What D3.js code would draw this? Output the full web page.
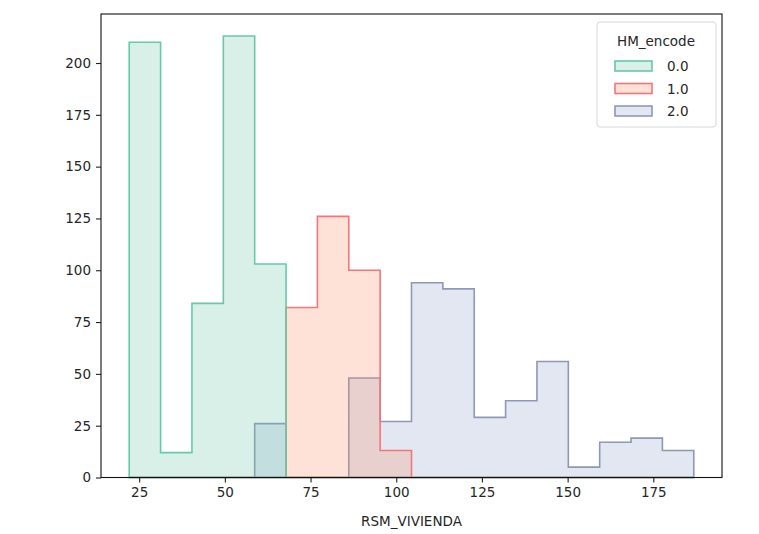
<!DOCTYPE html>
<html>
<head>
<meta charset="utf-8">
<script src="https://cdn.jsdelivr.net/npm/d3@7"></script>
<style>
    body { margin: 0; background: #fff; }
    text { font-family: "DejaVu Sans", sans-serif; fill: #262626; }
</style>
</head>
<body>
<div id="chart"></div>
<script>
// histogram bins shared by all hue levels
const binStart = 22.1,
    binEnd = 186.8,
    binCount = 18;

const hueLevels = ["0.0", "1.0", "2.0"];

// counts per bin, one array per HM_encode level
const counts0 = [210, 12, 84, 213, 103, 0, 0, 0, 0, 0, 0, 0, 0, 0, 0, 0, 0, 0];
const counts1 = [0, 0, 0, 0, 0, 82, 126, 100, 13, 0, 0, 0, 0, 0, 0, 0, 0, 0];
const counts2 = [0, 0, 0, 0, 26, 0, 0, 48, 27, 94, 91, 29, 37, 56, 5, 17, 19, 13];

const xTicks = [25, 50, 75, 100, 125, 150, 175];
const yTicks = [0, 25, 50, 75, 100, 125, 150, 175, 200];

const fills = ["#66c2a5", "#fc8d62", "#8da0cb"];
const strokes = ["#66c9a8", "#f2767a", "#8f99b4"];

let width = 759,
    height = 534,
    margin = {top: 14, right: 37, bottom: 56.5, left: 101};

let svg = d3.select("#chart").append("svg")
    .attr("width", width)
    .attr("height", height);

let span = binEnd - binStart;
let x = d3.scaleLinear()
    .domain([binStart - 0.05 * span, binEnd + 0.05 * span])
    .range([margin.left, width - margin.right]);

let allCounts = [counts0, counts1, counts2];
let yMax = d3.max(allCounts, c => d3.max(c));
let y = d3.scaleLinear()
    .domain([0, yMax * 1.05])
    .range([height - margin.bottom, margin.top]);

let binWidth = span / binCount;
let edges = d3.range(binCount + 1).map(i => binStart + i * binWidth);

let area = d3.area()
    .curve(d3.curveStepAfter)
    .x(d => x(d[0]))
    .y0(y(0))
    .y1(d => y(d[1]));

// seaborn draws the last hue first
const g = svg.append("g").attr("class", "hist");
[2, 1, 0].forEach(k => {
    let c = allCounts[k];
    let pts = edges.map((e, i) => [e, c[Math.min(i, binCount - 1)]]);
    g.append("path")
        .datum(pts)
        .attr("d", area)
        .attr("fill", fills[k])
        .attr("fill-opacity", 0.25)
        .attr("stroke", strokes[k])
        .attr("stroke-width", 1.6)
        .attr("stroke-linejoin", "miter");
});

// axes
let xAxis = svg.append("g")
    .attr("transform", "translate(0," + (height - margin.bottom) + ")")
    .call(d3.axisBottom(x).tickValues(xTicks).tickSize(5).tickPadding(5));

let yAxis = svg.append("g")
    .attr("transform", "translate(" + margin.left + ",0)")
    .call(d3.axisLeft(y).tickValues(yTicks).tickSize(5).tickPadding(5));

[xAxis, yAxis].forEach(a => {
    a.select(".domain").remove();
    a.selectAll("line").attr("stroke", "#222").attr("stroke-width", 1.1);
    a.selectAll("text").style("font-size", "13.5px").attr("fill", "#262626");
});

svg.append("rect")
    .attr("x", margin.left)
    .attr("y", margin.top)
    .attr("width", width - margin.left - margin.right)
    .attr("height", height - margin.top - margin.bottom)
    .attr("fill", "none")
    .attr("stroke", "#111")
    .attr("stroke-width", 1.1);

svg.append("text")
    .attr("x", (margin.left + width - margin.right) / 2)
    .attr("y", 526)
    .attr("text-anchor", "middle")
    .style("font-size", "13.5px")
    .text("RSM_VIVIENDA");

// legend
const legend = svg.append("g").attr("class", "legend");
legend.append("rect")
    .attr("x", 597)
    .attr("y", 22)
    .attr("width", 119)
    .attr("height", 105)
    .attr("rx", 3)
    .attr("fill", "#fff")
    .attr("fill-opacity", 0.8)
    .attr("stroke", "#d6d6d6");

legend.append("text")
    .attr("x", 656)
    .attr("y", 46)
    .attr("text-anchor", "middle")
    .style("font-size", "13.5px")
    .text("HM_encode");

hueLevels.forEach((lvl, k) => {
    let cy = 66 + k * 22.5;
    legend.append("rect")
        .attr("x", 615)
        .attr("y", cy - 5)
        .attr("width", 37)
        .attr("height", 10)
        .attr("fill", fills[k])
        .attr("fill-opacity", 0.25)
        .attr("stroke", strokes[k])
        .attr("stroke-width", 1.6);
    legend.append("text")
        .attr("x", 667)
        .attr("y", cy + 5)
        .style("font-size", "13.5px")
        .text(lvl);
});
</script>
</body>
</html>
